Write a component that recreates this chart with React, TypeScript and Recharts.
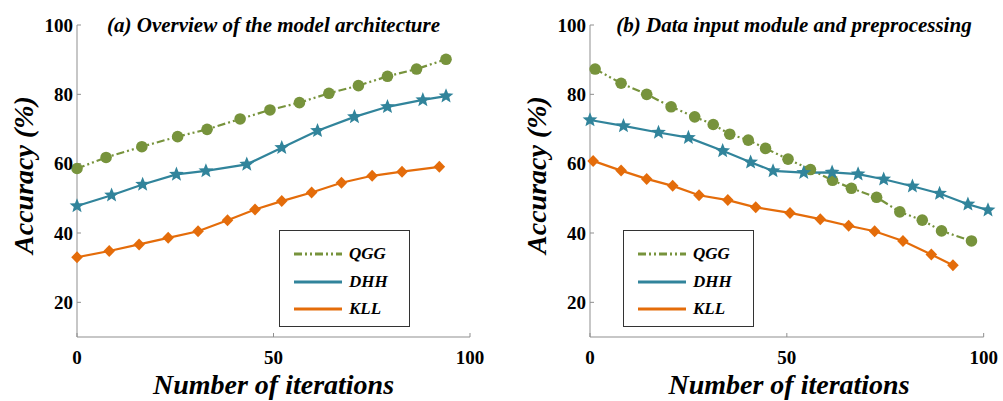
import React from 'react';
import { LineChart, Line, XAxis, YAxis, Legend, ReferenceLine } from 'recharts';

const FONT = '"Liberation Serif", "Times New Roman", Times, serif';

const seriesNames = ['QGG', 'DHH', 'KLL'];
const seriesColors = ['#77933C', '#31849B', '#E46C0A'];
const seriesDashes = ['8 3 2 3 2 3', undefined, undefined];

const yTicks = [20, 40, 60, 80, 100];
const xTicks = [0, 50, 100];
const yDomain = [10, 100];

const titleA = '(a) Overview of the model architecture';
const titleB = '(b) Data input module and preprocessing';
const xLabelText = 'Number of iterations';
const yLabelText = 'Accuracy (%)';

// Panel (a)
const qggAX = [0, 7.4, 16.5, 25.6, 33.1, 41.5, 49.1, 56.6, 64.1, 71.6, 79.0, 86.4, 93.9];
const qggAY = [58.6, 61.8, 64.9, 67.8, 69.9, 72.9, 75.5, 77.6, 80.3, 82.5, 85.2, 87.3, 90.1];
const dhhAX = [0, 8.8, 16.7, 25.3, 32.8, 43.2, 52.1, 61.2, 70.6, 79.0, 88.0, 93.9];
const dhhAY = [47.8, 50.9, 54.0, 56.9, 57.9, 59.8, 64.6, 69.5, 73.5, 76.4, 78.4, 79.5];
const kllAX = [0, 8.2, 15.8, 23.2, 30.8, 38.3, 45.3, 52.1, 59.7, 67.3, 75.1, 82.7, 92.2];
const kllAY = [33.0, 34.8, 36.7, 38.6, 40.5, 43.7, 46.8, 49.2, 51.7, 54.5, 56.5, 57.7, 59.1];

// Panel (b)
const qggBX = [1.3, 7.9, 14.4, 20.6, 26.6, 31.3, 35.5, 40.2, 44.6, 50.3, 56.0, 61.6, 66.4, 72.8, 78.7, 84.4, 89.3, 96.9];
const qggBY = [87.3, 83.2, 80.0, 76.4, 73.5, 71.3, 68.5, 66.8, 64.4, 61.3, 58.3, 55.2, 52.9, 50.3, 46.1, 43.7, 40.6, 37.7];
const dhhBX = [0, 8.5, 17.4, 25.0, 33.7, 40.8, 46.5, 54.3, 61.5, 68.1, 74.6, 81.9, 88.8, 96.0, 101.1];
const dhhBY = [72.6, 70.9, 69.0, 67.5, 63.7, 60.4, 57.9, 57.4, 57.5, 57.0, 55.5, 53.5, 51.4, 48.3, 46.6];
const kllBX = [0.8, 7.9, 14.4, 21.0, 27.7, 35.0, 42.1, 50.8, 58.5, 65.7, 72.3, 79.5, 86.7, 92.2];
const kllBY = [60.8, 58.0, 55.6, 53.6, 50.9, 49.5, 47.4, 45.8, 44.0, 42.1, 40.5, 37.7, 33.8, 30.7];

const zip = (xs: number[], ys: number[]) => xs.map((x, i) => ({ x, y: ys[i] }));

const AXIS_COLOR = '#8f8f8f';

const CircleDot = (props: any) => {
  const { cx, cy, index } = props;
  if (cx == null || cy == null) return <g key={`c${index}`} />;
  return <circle key={`c${index}`} cx={cx} cy={cy} r={5.8} fill={seriesColors[0]} />;
};

const StarDot = (props: any) => {
  const { cx, cy, index } = props;
  if (cx == null || cy == null) return <g key={`s${index}`} />;
  const pts: string[] = [];
  const outer = 7.8;
  const inner = 3.4;
  for (let k = 0; k < 10; k++) {
    const r = k % 2 === 0 ? outer : inner;
    const a = -Math.PI / 2 + (k * Math.PI) / 5;
    pts.push(`${cx + r * Math.cos(a)},${cy + r * Math.sin(a)}`);
  }
  return <polygon key={`s${index}`} points={pts.join(' ')} fill={seriesColors[1]} />;
};

const DiamondDot = (props: any) => {
  const { cx, cy, index } = props;
  if (cx == null || cy == null) return <g key={`d${index}`} />;
  const h = 6;
  const w = 5.8;
  return (
    <polygon
      key={`d${index}`}
      points={`${cx},${cy - h} ${cx + w},${cy} ${cx},${cy + h} ${cx - w},${cy}`}
      fill={seriesColors[2]}
    />
  );
};

const dotRenderers = [CircleDot, StarDot, DiamondDot];

const LegendBox = () => {
  const rowCenters = [23, 51, 78];
  return (
    <div
      style={{
        boxSizing: 'border-box',
        width: 131,
        height: 97,
        border: '1px solid #333',
        background: '#fff',
        position: 'relative',
      }}
    >
      {seriesNames.map((name, i) => (
        <div
          key={name}
          style={{ position: 'absolute', left: 0, top: rowCenters[i] - 10, height: 20, width: '100%' }}
        >
          <svg width={48} height={6} style={{ position: 'absolute', left: 14, top: 7 }}>
            <line x1={0} y1={3} x2={48} y2={3} stroke={seriesColors[i]} strokeWidth={3} strokeDasharray={seriesDashes[i]} />
          </svg>
          <span
            style={{
              position: 'absolute',
              left: 69,
              top: 0,
              lineHeight: '20px',
              fontFamily: FONT,
              fontWeight: 'bold',
              fontStyle: 'italic',
              fontSize: 17,
              color: '#000',
              whiteSpace: 'nowrap',
            }}
          >
            {name}
          </span>
        </div>
      ))}
    </div>
  );
};

type PanelProps = {
  left: number;
  width: number;
  yAxisWidth: number;
  marginRight: number;
  title: string;
  titleCenterX: number;
  legendLeft: number;
  data: { x: number; y: number }[][];
  xDomain: any;
  customAxisLine: boolean;
};

const tickStyle = { fontFamily: FONT, fontWeight: 'bold' as const, fontSize: 19, fill: '#000' };

const Panel = (p: PanelProps) => {
  const height = 401;
  return (
    <div style={{ position: 'absolute', left: p.left, top: 0, width: p.width, height }}>
      <LineChart width={p.width} height={height} margin={{ top: 25, right: p.marginRight, left: 0, bottom: 0 }}>
        <XAxis
          type="number"
          dataKey="x"
          domain={p.xDomain}
          ticks={xTicks}
          interval={0}
          height={64}
          tickSize={-4}
          tickMargin={18}
          axisLine={p.customAxisLine ? false : { stroke: AXIS_COLOR, strokeWidth: 1 }}
          tickLine={{ stroke: AXIS_COLOR, strokeWidth: 1 }}
          tick={tickStyle}
          label={{
            content: (lp: any) => {
              const vb = lp.viewBox || { x: 77, y: 337, width: 393, height: 64 };
              const cx = vb.x + vb.width / 2;
              return (
                <text x={cx} y={394} textAnchor="middle" fontFamily={FONT} fontWeight="bold" fontStyle="italic" fontSize={28} fill="#000">
                  {xLabelText}
                </text>
              );
            },
          }}
        />
        <YAxis
          type="number"
          domain={yDomain}
          ticks={yTicks}
          interval={0}
          width={p.yAxisWidth}
          tickSize={-4}
          tickMargin={8}
          axisLine={{ stroke: AXIS_COLOR, strokeWidth: 1 }}
          tickLine={{ stroke: AXIS_COLOR, strokeWidth: 1 }}
          tick={tickStyle}
          label={{
            content: (lp: any) => {
              const vb = lp.viewBox || { x: 0, y: 25, width: p.yAxisWidth, height: 312 };
              const cx = vb.x + vb.width - 44;
              const cy = 175;
              return (
                <text x={cx} y={cy} transform={`rotate(-90 ${cx} ${cy})`} textAnchor="middle" fontFamily={FONT} fontWeight="bold" fontStyle="italic" fontSize={28} fill="#000">
                  {yLabelText}
                </text>
              );
            },
          }}
        />
        {p.customAxisLine && (
          <ReferenceLine
            segment={[
              { x: xTicks[0], y: yDomain[0] },
              { x: xTicks[2], y: yDomain[0] },
            ]}
            stroke={AXIS_COLOR}
            strokeWidth={1}
            ifOverflow="visible"
          />
        )}
        {p.data.map((d, i) => (
          <Line
            key={seriesNames[i]}
            name={seriesNames[i]}
            data={d}
            dataKey="y"
            type="linear"
            stroke={seriesColors[i]}
            strokeWidth={2.2}
            strokeDasharray={seriesDashes[i]}
            dot={dotRenderers[i]}
            activeDot={false}
            isAnimationActive={false}
          />
        ))}
        <Legend
          layout="vertical"
          align="center"
          verticalAlign="middle"
          wrapperStyle={{ left: p.legendLeft, top: 230, width: 131, height: 97 }}
          content={() => <LegendBox />}
        />
      </LineChart>
      <div style={{ position: 'absolute', left: p.titleCenterX - 250, width: 500, top: 0, pointerEvents: 'none' }}>
        <div
          style={{
            fontFamily: FONT,
            fontWeight: 'bold',
            fontStyle: 'italic',
            fontSize: 21,
            lineHeight: '24px',
            marginTop: 13,
            textAlign: 'center',
            color: '#000',
          }}
        >
          {p.title}
        </div>
      </div>
    </div>
  );
};

export default function App() {
  return (
    <div style={{ position: 'absolute', left: 0, top: 0, width: 1003, height: 401, background: '#fff' }}>
      <Panel
        left={0}
        width={500}
        yAxisWidth={77}
        marginRight={30}
        title={titleA}
        titleCenterX={273.5}
        legendLeft={279}
        data={[zip(qggAX, qggAY), zip(dhhAX, dhhAY), zip(kllAX, kllAY)]}
        xDomain={[0, 100]}
        customAxisLine={false}
      />
      <Panel
        left={500}
        width={503}
        yAxisWidth={90}
        marginRight={15}
        title={titleB}
        titleCenterX={294}
        legendLeft={123}
        data={[zip(qggBX, qggBY), zip(dhhBX, dhhBY), zip(kllBX, kllBY)]}
        xDomain={[0, 'dataMax']}
        customAxisLine={true}
      />
    </div>
  );
}
